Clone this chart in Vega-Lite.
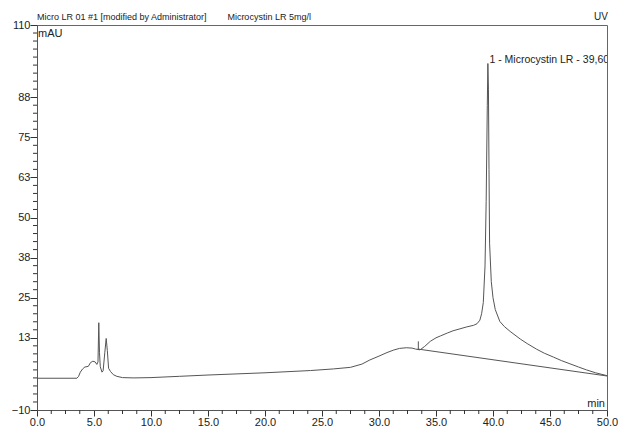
{
  "$schema": "https://vega.github.io/schema/vega-lite/v6.json",
  "width": 570,
  "height": 385,
  "autosize": "none",
  "padding": {"left": 37, "top": 25, "right": 17, "bottom": 16},
  "background": "white",
  "config": {
    "view": {"stroke": "#666", "strokeWidth": 1},
    "font": "Liberation Sans",
    "axis": {"labelFont": "Liberation Sans", "labelColor": "#222", "tickColor": "#333", "domainColor": "#555", "grid": false}
  },
  "datasets": {
    "signal": [
      {"t": 0.0, "v": -0.1}, {"t": 3.5, "v": -0.1}, {"t": 3.65, "v": 0.5}, {"t": 3.8, "v": 1.8},
      {"t": 4.0, "v": 2.8}, {"t": 4.2, "v": 3.4}, {"t": 4.5, "v": 3.6}, {"t": 4.7, "v": 4.8},
      {"t": 4.9, "v": 5.2}, {"t": 5.1, "v": 5.0}, {"t": 5.25, "v": 4.2}, {"t": 5.35, "v": 5.0},
      {"t": 5.42, "v": 17.2}, {"t": 5.48, "v": 8.0}, {"t": 5.55, "v": 3.5}, {"t": 5.7, "v": 1.8},
      {"t": 5.8, "v": 2.2}, {"t": 5.95, "v": 8.0}, {"t": 6.07, "v": 12.3}, {"t": 6.17, "v": 8.5},
      {"t": 6.28, "v": 3.0}, {"t": 6.45, "v": 2.0}, {"t": 6.7, "v": 1.0}, {"t": 7.0, "v": 0.5},
      {"t": 7.5, "v": 0.1}, {"t": 8.5, "v": 0.0}, {"t": 10, "v": 0.1}, {"t": 12.5, "v": 0.5},
      {"t": 15, "v": 0.9}, {"t": 20, "v": 1.6}, {"t": 24, "v": 2.3}, {"t": 26, "v": 2.8},
      {"t": 27.5, "v": 3.3}, {"t": 28.5, "v": 4.3}, {"t": 29.2, "v": 5.6}, {"t": 30, "v": 6.8},
      {"t": 30.7, "v": 7.9}, {"t": 31.3, "v": 8.7}, {"t": 31.8, "v": 9.2}, {"t": 32.4, "v": 9.4},
      {"t": 32.9, "v": 9.3}, {"t": 33.2, "v": 9.0}, {"t": 33.6, "v": 8.75}, {"t": 34.0, "v": 9.8},
      {"t": 34.5, "v": 11.4}, {"t": 35.0, "v": 12.5}, {"t": 35.4, "v": 13.1}, {"t": 36.0, "v": 14.0},
      {"t": 36.5, "v": 14.7}, {"t": 37.1, "v": 15.3}, {"t": 37.7, "v": 15.9}, {"t": 38.3, "v": 16.4},
      {"t": 38.6, "v": 16.9}, {"t": 38.85, "v": 18.0}, {"t": 39.0, "v": 20.0}, {"t": 39.15, "v": 23.5},
      {"t": 39.3, "v": 34.9}, {"t": 39.4, "v": 55}, {"t": 39.5, "v": 85}, {"t": 39.55, "v": 98},
      {"t": 39.6, "v": 90}, {"t": 39.65, "v": 65}, {"t": 39.7, "v": 42}, {"t": 39.85, "v": 30},
      {"t": 40.0, "v": 25}, {"t": 40.2, "v": 21.3}, {"t": 40.6, "v": 17.6}, {"t": 41.0, "v": 16.0},
      {"t": 41.5, "v": 14.5}, {"t": 42.4, "v": 12.1}, {"t": 43.0, "v": 10.7}, {"t": 43.8, "v": 9.0},
      {"t": 44.5, "v": 7.7}, {"t": 45.3, "v": 6.5}, {"t": 46.0, "v": 5.4}, {"t": 46.75, "v": 4.4},
      {"t": 47.5, "v": 3.4}, {"t": 48.2, "v": 2.5}, {"t": 49.0, "v": 1.6}, {"t": 50.0, "v": 0.7}
    ],
    "baseline": [{"t": 33.4, "v": 9.0}, {"t": 50.0, "v": 0.6}],
    "marker": [{"t": 33.45, "v": 9.0, "v2": 11.4}],
    "minorX": [
      {"t": 1.25}, {"t": 2.5}, {"t": 3.75}, {"t": 6.25}, {"t": 7.5}, {"t": 8.75},
      {"t": 11.25}, {"t": 12.5}, {"t": 13.75}, {"t": 16.25}, {"t": 17.5}, {"t": 18.75},
      {"t": 21.25}, {"t": 22.5}, {"t": 23.75}, {"t": 26.25}, {"t": 27.5}, {"t": 28.75},
      {"t": 31.25}, {"t": 32.5}, {"t": 33.75}, {"t": 36.25}, {"t": 37.5}, {"t": 38.75},
      {"t": 41.25}, {"t": 42.5}, {"t": 43.75}, {"t": 46.25}, {"t": 47.5}, {"t": 48.75}
    ],
    "minorY": [
      {"v": -7.5}, {"v": -5}, {"v": -2.5}, {"v": 0}, {"v": 2.5}, {"v": 5}, {"v": 7.5}, {"v": 10},
      {"v": 15}, {"v": 17.5}, {"v": 20}, {"v": 22.5}, {"v": 27.5}, {"v": 30}, {"v": 32.5}, {"v": 35},
      {"v": 40}, {"v": 42.5}, {"v": 45}, {"v": 47.5}, {"v": 52.5}, {"v": 55}, {"v": 57.5}, {"v": 60},
      {"v": 65}, {"v": 67.5}, {"v": 70}, {"v": 72.5}, {"v": 77.5}, {"v": 80}, {"v": 82.5}, {"v": 85},
      {"v": 90}, {"v": 92.5}, {"v": 95}, {"v": 97.5}, {"v": 100}, {"v": 102.5}, {"v": 105}, {"v": 107.5}
    ]
  },
  "encoding": {},
  "layer": [
    {
      "data": {"name": "signal"},
      "mark": {"type": "line", "color": "#555", "strokeWidth": 1, "clip": true},
      "encoding": {
        "x": {"field": "t", "type": "quantitative", "scale": {"domain": [0, 50], "nice": false, "zero": false},
          "axis": {"title": null, "tickCount": 20,
            "values": [0, 5, 10, 15, 20, 25, 30, 35, 40, 45, 50],
            "format": ".1f", "tickSize": 6,
            "labelPadding": 0, "labelFontSize": 11, "labelFlush": false, "labelOverlap": false}},
        "y": {"field": "v", "type": "quantitative", "scale": {"domain": [-10, 110], "nice": false, "zero": false},
          "axis": {"title": null, "tickCount": 20,
            "values": [-10, 12.5, 25, 37.5, 50, 62.5, 75, 87.5, 110],
            "labelExpr": "format(round(datum.value), 'd')",
            "tickSize": 7,
            "labelPadding": 0, "labelFontSize": 11, "labelFlush": false, "labelOverlap": false}}
      }
    },
    {
      "data": {"name": "minorX"},
      "mark": {"type": "rule", "color": "#333", "strokeWidth": 1},
      "encoding": {
        "x": {"field": "t", "type": "quantitative"},
        "y": {"datum": -10, "type": "quantitative"},
        "y2": {"datum": -11.25}
      }
    },
    {
      "data": {"name": "minorY"},
      "mark": {"type": "rule", "color": "#333", "strokeWidth": 1},
      "encoding": {
        "y": {"field": "v", "type": "quantitative"},
        "x": {"datum": 0, "type": "quantitative"},
        "x2": {"datum": -0.35}
      }
    },
    {
      "data": {"name": "baseline"},
      "mark": {"type": "line", "color": "#555", "strokeWidth": 1},
      "encoding": {
        "x": {"field": "t", "type": "quantitative"},
        "y": {"field": "v", "type": "quantitative"}
      }
    },
    {
      "data": {"name": "marker"},
      "mark": {"type": "rule", "color": "#555", "strokeWidth": 1},
      "encoding": {
        "x": {"field": "t", "type": "quantitative"},
        "y": {"field": "v", "type": "quantitative"},
        "y2": {"field": "v2"}
      }
    },
    {
      "data": {"values": [
        {"t": 0, "v": 110, "label": "Micro LR 01 #1 [modified by Administrator]"},
        {"t": 16.7, "v": 110, "label": "Microcystin LR 5mg/l"}
      ]},
      "mark": {"type": "text", "align": "left", "baseline": "bottom", "dy": -3, "fontSize": 9, "color": "#222"},
      "encoding": {
        "x": {"field": "t", "type": "quantitative"},
        "y": {"field": "v", "type": "quantitative"},
        "text": {"field": "label"}
      }
    },
    {
      "data": {"values": [{"t": 50, "v": 110, "label": "UV"}]},
      "mark": {"type": "text", "align": "right", "baseline": "bottom", "dy": -3, "dx": 1, "fontSize": 10, "color": "#222"},
      "encoding": {
        "x": {"field": "t", "type": "quantitative"},
        "y": {"field": "v", "type": "quantitative"},
        "text": {"field": "label"}
      }
    },
    {
      "data": {"values": [{"t": 0, "v": 110, "label": "mAU"}]},
      "mark": {"type": "text", "align": "left", "baseline": "top", "dy": 3, "dx": 1, "fontSize": 11, "color": "#222"},
      "encoding": {
        "x": {"field": "t", "type": "quantitative"},
        "y": {"field": "v", "type": "quantitative"},
        "text": {"field": "label"}
      }
    },
    {
      "data": {"values": [{"t": 50, "v": -10, "label": "min"}]},
      "mark": {"type": "text", "align": "right", "baseline": "bottom", "dy": -1, "dx": -2, "fontSize": 11, "color": "#222"},
      "encoding": {
        "x": {"field": "t", "type": "quantitative"},
        "y": {"field": "v", "type": "quantitative"},
        "text": {"field": "label"}
      }
    },
    {
      "data": {"values": [{"t": 39.6, "v": 98, "label": "1 - Microcystin LR - 39,60"}]},
      "mark": {"type": "text", "align": "left", "baseline": "bottom", "dy": 1, "dx": 1, "fontSize": 10.5, "color": "#222", "clip": true},
      "encoding": {
        "x": {"field": "t", "type": "quantitative"},
        "y": {"field": "v", "type": "quantitative"},
        "text": {"field": "label"}
      }
    }
  ]
}
